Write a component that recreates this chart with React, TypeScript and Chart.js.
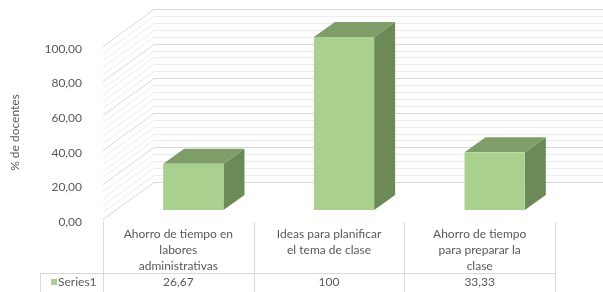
import React, { useEffect, useRef } from "react";
import { Chart, registerables } from "chart.js";

Chart.register(...registerables);

const categoryLines: string[][] = [
  ["Ahorro de tiempo en", "labores", "administrativas"],
  ["Ideas para planificar", "el tema de clase"],
  ["Ahorro de tiempo", "para preparar la", "clase"],
];
const seriesName = "Series1";
const seriesValues: number[] = [26.67, 100, 33.33];
const yTicks: number[] = [0, 20, 40, 60, 80, 100];
const minorStep = 4;
const axisTitle = "% de docentes";

const FONT = "Lato, 'Open Sans', sans-serif";
const TEXT = "#595959";
const FRONT = "#a9d08e";
const TOP = "#7f9d69";
const SIDE = "#6b8a57";
const MAJOR = "#d9d9d9";
const MINOR = "#ececec";
const TABLE = "#d9d9d9";

// 3D geometry (oblique projection offsets)
const WALL_DX = 51, WALL_DY = -37;
const BAR_FX = 15, BAR_FY = -9;
const BAR_DX = 21, BAR_DY = -15;

const fmtNum = (v: number) =>
  Number.isInteger(v) ? String(v) : v.toFixed(2).replace(".", ",");

const threeD = {
  id: "threeD",
  beforeDatasetsDraw(chart: any) {
    const { ctx, chartArea, scales } = chart;
    const y = scales.y;
    const L = chartArea.left, R = chartArea.right;
    ctx.save();
    ctx.lineWidth = 1;
    const max = y.max;
    const vals: number[] = [];
    for (let v = 0; v <= max + 1e-9; v += minorStep) vals.push(v);
    for (const pass of [0, 1]) {
      for (const v of vals) {
        const major = yTicks.includes(v);
        if ((pass === 1) !== major) continue;
        ctx.strokeStyle = major ? MAJOR : MINOR;
        const py = Math.round(y.getPixelForValue(v)) + 0.5;
        ctx.beginPath();
        ctx.moveTo(L, py);
        ctx.lineTo(L + WALL_DX, py + WALL_DY);
        ctx.lineTo(R + WALL_DX, py + WALL_DY);
        ctx.stroke();
      }
    }
    ctx.restore();
  },
  afterDatasetsDraw(chart: any) {
    const { ctx, chartArea, scales } = chart;
    const meta = chart.getDatasetMeta(0);
    ctx.save();
    meta.data.forEach((el: any) => {
      const p = el.getProps(["x", "y", "base", "width"], true);
      const l = p.x - p.width / 2 + BAR_FX;
      const r = p.x + p.width / 2 + BAR_FX;
      const t = p.y + BAR_FY;
      const b = p.base + BAR_FY;
      ctx.fillStyle = SIDE;
      ctx.beginPath();
      ctx.moveTo(r, t);
      ctx.lineTo(r + BAR_DX, t + BAR_DY);
      ctx.lineTo(r + BAR_DX, b + BAR_DY);
      ctx.lineTo(r, b);
      ctx.closePath();
      ctx.fill();
      ctx.fillStyle = TOP;
      ctx.beginPath();
      ctx.moveTo(l, t);
      ctx.lineTo(l + BAR_DX, t + BAR_DY);
      ctx.lineTo(r + BAR_DX, t + BAR_DY);
      ctx.lineTo(r, t);
      ctx.closePath();
      ctx.fill();
      ctx.fillStyle = FRONT;
      ctx.fillRect(l, t, r - l, b - t);
    });
    ctx.restore();

    // data table
    const x = scales.x;
    const L = chartArea.left, R = chartArea.right;
    const n = categoryLines.length;
    const slot = (R - L) / n;
    const tableTop = chartArea.bottom + 3;
    const rowY = 273;
    const bottom = chart.height;
    ctx.save();
    ctx.strokeStyle = TABLE;
    ctx.lineWidth = 1;
    ctx.beginPath();
    for (let i = 0; i <= n; i++) {
      const px = Math.round(L + i * slot) + 0.5;
      ctx.moveTo(px, tableTop);
      ctx.lineTo(px, bottom);
    }
    ctx.moveTo(40.5, rowY + 0.5);
    ctx.lineTo(Math.round(R) + 0.5, rowY + 0.5);
    ctx.moveTo(40.5, rowY);
    ctx.lineTo(40.5, bottom);
    ctx.stroke();

    ctx.fillStyle = TEXT;
    ctx.font = `12px ${FONT}`;
    ctx.textAlign = "center";
    ctx.textBaseline = "middle";
    categoryLines.forEach((lines, i) => {
      const cx = x.getPixelForValue(i);
      lines.forEach((ln, j) => {
        ctx.fillText(ln, cx, 234 + j * 16);
      });
      ctx.fillText(fmtNum(seriesValues[i]), cx, rowY + 9);
    });
    ctx.fillStyle = FRONT;
    ctx.fillRect(51, rowY + 6, 6, 6);
    ctx.fillStyle = TEXT;
    ctx.textAlign = "left";
    ctx.fillText(seriesName, 58, rowY + 9);
    ctx.restore();
  },
};

export default function App() {
  const ref = useRef<HTMLCanvasElement | null>(null);
  useEffect(() => {
    if (!ref.current) return;
    const chart = new Chart(ref.current, {
      type: "bar",
      data: {
        labels: categoryLines.map((l) => l.join(" ")),
        datasets: [
          {
            label: seriesName,
            data: seriesValues,
            backgroundColor: "rgba(0,0,0,0)",
            borderWidth: 0,
            categoryPercentage: 0.4,
            barPercentage: 1,
          },
        ],
      },
      options: {
        animation: false,
        responsive: true,
        maintainAspectRatio: false,
        layout: { padding: { left: 0, top: 46, right: 48, bottom: 73 } },
        plugins: { legend: { display: false }, tooltip: { enabled: false } },
        scales: {
          x: { display: false, offset: true },
          y: {
            min: 0,
            max: 100,
            afterFit: (s: any) => {
              s.width = 103;
            },
            afterBuildTicks: (s: any) => {
              s.ticks = yTicks.map((v) => ({ value: v }));
            },
            grid: { display: false },
            border: { display: false },
            ticks: {
              padding: 13,
              labelOffset: 3,
              color: TEXT,
              font: { family: FONT, size: 12 },
              callback: (v: any) => Number(v).toFixed(2).replace(".", ","),
            },
            title: {
              display: true,
              text: axisTitle,
              color: TEXT,
              font: { family: FONT, size: 12 },
              padding: { top: 8, bottom: 0 },
            },
          },
        },
      },
      plugins: [threeD],
    });
    return () => chart.destroy();
  }, []);
  return (
    <div style={{ position: "fixed", left: 0, top: 0, width: 603, height: 292, background: "#fff" }}>
      <canvas ref={ref} />
    </div>
  );
}
